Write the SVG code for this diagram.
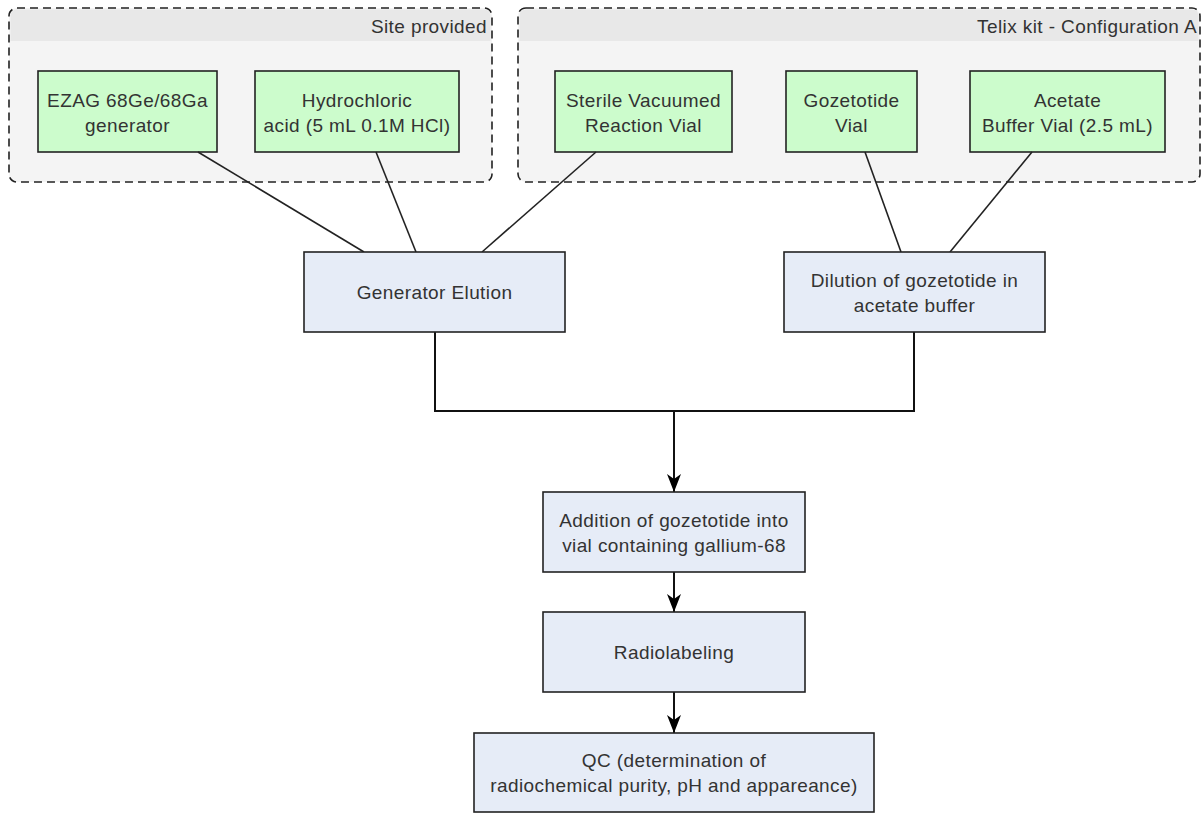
<svg xmlns="http://www.w3.org/2000/svg" width="1201" height="816" viewBox="0 0 1201 816">
<defs>
<style>
.grp{fill:#f4f4f4;stroke:#222;stroke-width:1.6;stroke-dasharray:8 5}
.hdr{fill:#e8e8e8}
.g{fill:#ccfccc;stroke:#222;stroke-width:1.6}
.b{fill:#e6ecf7;stroke:#222;stroke-width:1.6}
.t{font-family:"Liberation Sans",Arial,sans-serif;font-size:19px;letter-spacing:0.4px;fill:#333;text-anchor:middle;dominant-baseline:central}
.h{font-family:"Liberation Sans",Arial,sans-serif;font-size:19px;letter-spacing:0.4px;fill:#333;text-anchor:end;dominant-baseline:central}
.c{fill:none;stroke:#222;stroke-width:1.6}
.k{fill:none;stroke:#111;stroke-width:2}
</style>
<marker id="arr" markerWidth="18" markerHeight="14" viewBox="0 0 18 14" refX="18" refY="7" orient="auto" markerUnits="userSpaceOnUse">
<path d="M0,0 L5,7 L0,14 L18,7 Z" fill="#000"/>
</marker>
</defs>
<g id="site-provided">
<rect class="grp" x="9" y="8" width="483" height="174" rx="8"/>
<path class="hdr" d="M10.5,16 Q10.5,9.5 17,9.5 L484,9.5 Q490.5,9.5 490.5,16 L490.5,41 L10.5,41 Z"/>
<text class="h" x="487" y="26">Site provided</text>
</g>
<g id="telix-kit">
<rect class="grp" x="518" y="8" width="682" height="174" rx="8"/>
<path class="hdr" d="M519.5,16 Q519.5,9.5 526,9.5 L1192,9.5 Q1198.5,9.5 1198.5,16 L1198.5,41 L519.5,41 Z"/>
<text class="h" x="1197" y="26">Telix kit - Configuration A</text>
</g>
<g id="ezag">
<rect class="g" x="38" y="71" width="179" height="81"/>
<text class="t" x="127.5" y="100">EZAG 68Ge/68Ga</text>
<text class="t" x="127.5" y="125">generator</text>
</g>
<g id="hcl">
<rect class="g" x="255" y="71" width="204" height="81"/>
<text class="t" x="357" y="100">Hydrochloric</text>
<text class="t" x="357" y="125">acid (5 mL 0.1M HCl)</text>
</g>
<g id="sterile">
<rect class="g" x="555" y="71" width="177" height="81"/>
<text class="t" x="643.5" y="100">Sterile Vacuumed</text>
<text class="t" x="643.5" y="125">Reaction Vial</text>
</g>
<g id="gozetotide">
<rect class="g" x="786" y="71" width="131" height="81"/>
<text class="t" x="851.5" y="100">Gozetotide</text>
<text class="t" x="851.5" y="125">Vial</text>
</g>
<g id="acetate">
<rect class="g" x="970" y="71" width="195" height="81"/>
<text class="t" x="1067.5" y="100">Acetate</text>
<text class="t" x="1067.5" y="125">Buffer Vial (2.5 mL)</text>
</g>
<g id="connectors">
<line class="c" x1="198" y1="152" x2="364" y2="252"/>
<line class="c" x1="376" y1="152" x2="416" y2="252"/>
<line class="c" x1="596" y1="152" x2="482" y2="252"/>
<line class="c" x1="865" y1="152" x2="901" y2="252"/>
<line class="c" x1="1032" y1="152" x2="950" y2="252"/>
<polyline class="k" points="435,332 435,411 914,411 914,332"/>
<line class="k" x1="674" y1="411" x2="674" y2="492" marker-end="url(#arr)"/>
<line class="k" x1="674" y1="572" x2="674" y2="612" marker-end="url(#arr)"/>
<line class="k" x1="674" y1="692" x2="674" y2="733" marker-end="url(#arr)"/>
</g>
<g id="generator-elution">
<rect class="b" x="304" y="252" width="261" height="80"/>
<text class="t" x="434.5" y="292">Generator Elution</text>
</g>
<g id="dilution">
<rect class="b" x="784" y="252" width="261" height="80"/>
<text class="t" x="914.5" y="280">Dilution of gozetotide in</text>
<text class="t" x="914.5" y="305">acetate buffer</text>
</g>
<g id="addition">
<rect class="b" x="543" y="492" width="262" height="80"/>
<text class="t" x="674" y="520">Addition of gozetotide into</text>
<text class="t" x="674" y="545">vial containing gallium-68</text>
</g>
<g id="radiolabeling">
<rect class="b" x="543" y="612" width="262" height="80"/>
<text class="t" x="674" y="652">Radiolabeling</text>
</g>
<g id="qc">
<rect class="b" x="474" y="733" width="400" height="79"/>
<text class="t" x="674" y="760">QC (determination of</text>
<text class="t" x="674" y="785">radiochemical purity, pH and appareance)</text>
</g>
</svg>
